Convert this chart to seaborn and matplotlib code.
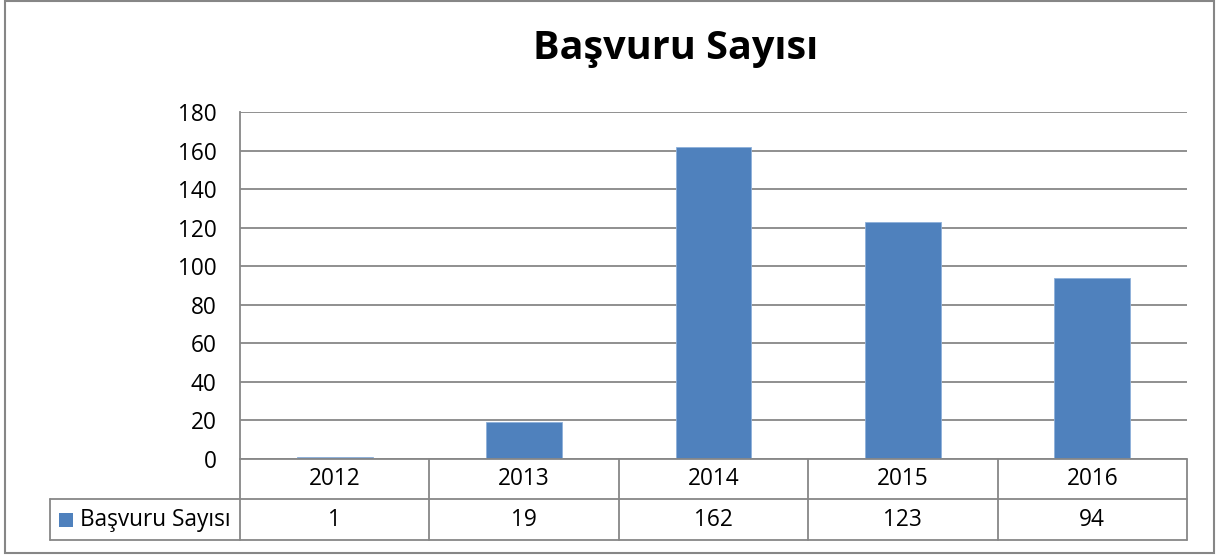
import matplotlib
matplotlib.use("Agg")
import matplotlib.pyplot as plt
from matplotlib.patches import Rectangle
import seaborn as sns
import pandas as pd

years = ["2012", "2013", "2014", "2015", "2016"]
values = [1, 19, 162, 123, 94]
series_name = "Başvuru Sayısı"
title = "Başvuru Sayısı"
yticks = [0, 20, 40, 60, 80, 100, 120, 140, 160, 180]

sns.set_style("white")
plt.rcParams["font.family"] = ["Open Sans", "DejaVu Sans"]

W, H = 1219, 556
fig = plt.figure(figsize=(W / 100, H / 100), dpi=100)

def fx(px):
    return px / W

def fy(py):
    return 1 - py / H

FS = 16.3
ax_l, ax_r, ax_t, ax_b = 240, 1187, 112, 459
ax = fig.add_axes([fx(ax_l), fy(ax_b), fx(ax_r) - fx(ax_l), fy(ax_t) - fy(ax_b)])

df = pd.DataFrame({"Yıl": years, "Değer": values})
bar_color = "#4F81BD"
sns.barplot(data=df, x="Yıl", y="Değer", color=bar_color, width=0.4,
            edgecolor="#8EB0DA", linewidth=0.6, saturation=1, ax=ax, zorder=3)

ax.set_ylim(0, 180)
ax.set_xlim(-0.5, len(years) - 0.5)
ax.set_yticks(yticks)
ax.set_yticklabels([str(t) for t in yticks], fontsize=FS, color="black")
ax.set_xticks([])
ax.set_xlabel("")
ax.set_ylabel("")
ax.tick_params(axis="y", length=0, pad=17)
grid_c = "#878787"
for t in yticks:
    ax.axhline(t, color=grid_c, lw=1.3, zorder=1)
for s in ["top", "right", "bottom"]:
    ax.spines[s].set_visible(False)
ax.spines["left"].set_color(grid_c)
ax.spines["left"].set_linewidth(1.3)

# data table below axes, in figure pixel coordinates
row1_b, row2_b = 499, 540
leg_l = 50
cat_w = (ax_r - ax_l) / len(years)
lines = []
lines.append(((ax_l, ax_b), (ax_r, ax_b)))
lines.append(((leg_l, row1_b), (ax_r, row1_b)))
lines.append(((leg_l, row2_b), (ax_r, row2_b)))
lines.append(((leg_l, row1_b), (leg_l, row2_b)))
for i in range(len(years) + 1):
    x = ax_l + i * cat_w
    lines.append(((x, ax_b), (x, row2_b)))
for (x0, y0), (x1, y1) in lines:
    fig.add_artist(plt.Line2D([fx(x0), fx(x1)], [fy(y0), fy(y1)],
                              color=grid_c, lw=1.3, transform=fig.transFigure))

for i, (yr, v) in enumerate(zip(years, values)):
    cx = ax_l + (i + 0.5) * cat_w
    fig.text(fx(cx), fy((ax_b + row1_b) / 2), yr, ha="center", va="center",
             fontsize=FS, color="black")
    fig.text(fx(cx), fy((row1_b + row2_b) / 2), str(v), ha="center", va="center",
             fontsize=FS, color="black")

# legend key
fig.add_artist(Rectangle((fx(59), fy(527)), fx(14), fy(513) - fy(527),
                         facecolor=bar_color, edgecolor="none",
                         transform=fig.transFigure))
fig.text(fx(80), fy((row1_b + row2_b) / 2), series_name, ha="left", va="center",
         fontsize=FS, color="black")

# title
fig.text(fx(676), fy(48), title, ha="center", va="center", fontsize=28.5,
         fontweight="bold", color="black")

# outer border
fig.add_artist(Rectangle((fx(5), fy(553)), fx(1214) - fx(5), fy(1) - fy(553),
                         facecolor="none", edgecolor="#868686", lw=1.5,
                         transform=fig.transFigure))

fig.savefig("out.png", dpi=100)
